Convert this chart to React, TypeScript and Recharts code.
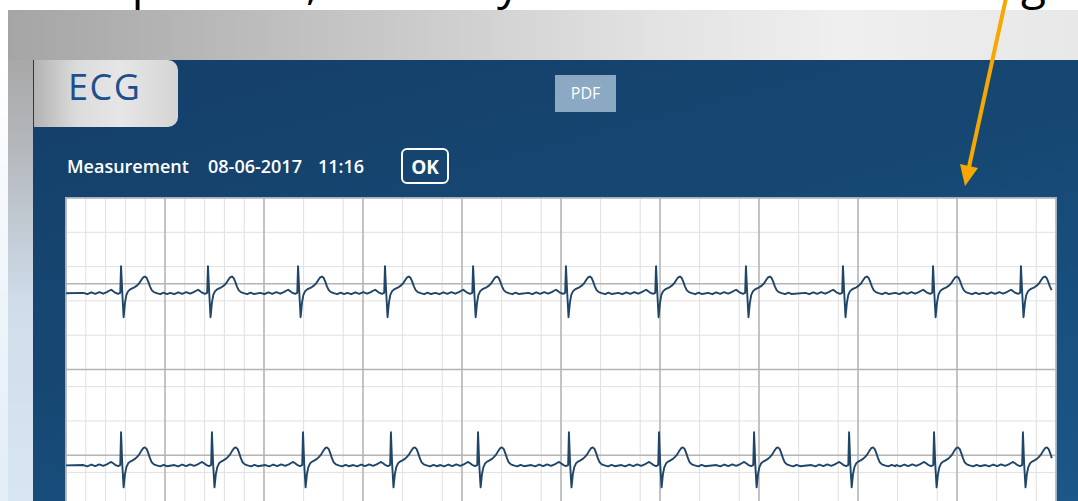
import React from 'react';
import { LineChart, Line, XAxis, YAxis, CartesianGrid } from 'recharts';

// ---- data (x in small grid boxes, y in small grid boxes) ----
const minorXTicks = [1,2,3,4,6,7,8,9,11,12,13,14,16,17,18,19,21,22,23,24,26,27,28,29,31,32,33,34,36,37,38,39,41,42,43,44,46,47,48,49];
const majorXTicks = [0,5,10,15,20,25,30,35,40,45,50];
const minorYTicks = [1,2,3,4,6,7,8,9,11,12,13,14,16,17,18,19,20];
const majorYTicks = [5, 10, 15];

// R-peak positions of each strip
const strip1Peaks = [2.78, 7.17, 11.72, 16.11, 20.56, 25.25, 29.8, 34.34, 39.24, 43.79, 48.23];
const strip2Peaks = [2.78, 7.37, 11.97, 16.41, 20.81, 25.4, 29.95, 34.75, 39.55, 43.84, 48.33];
const strip1Baseline = 14.45;
const strip2Baseline = 4.41;

// one heartbeat: offsets from the R peak and heights above the baseline (incl. small baseline wiggles)
const beatOffsets = [-1.9, -1.7, -1.5, -1.3, -1.1, -0.9, -0.72, -0.6, -0.5, -0.4, -0.3, -0.15, -0.04, 0, 0.06, 0.13, 0.2, 0.27, 0.36, 0.46, 0.56, 0.68, 0.8, 0.92, 1.03, 1.12, 1.21, 1.3, 1.38, 1.46, 1.55, 1.66, 1.8, 1.98, 2.15, 2.32];
const beatShape1 = [0.02, -0.06, 0.05, -0.04, 0.06, -0.03, 0.06, 0.14, 0.2, 0.12, 0.03, -0.04, 0.02, 1.58, 0.1, -1.4, -0.55, -0.1, 0.12, 0.22, 0.28, 0.34, 0.44, 0.58, 0.78, 0.92, 0.97, 0.88, 0.66, 0.4, 0.18, 0.06, 0.0, -0.06, 0.03, -0.05];
const beatShape2 = [0.02, -0.06, 0.05, -0.04, 0.06, -0.03, 0.06, 0.14, 0.2, 0.12, 0.03, -0.04, 0.02, 1.93, 0.1, -1.28, -0.5, -0.1, 0.12, 0.22, 0.28, 0.36, 0.48, 0.64, 0.86, 1.0, 1.05, 0.95, 0.7, 0.42, 0.18, 0.06, 0.0, -0.06, 0.03, -0.05];

const buildTrace = (peaks: number[], base: number, shape: number[]) => {
  const pts: { x: number; y: number }[] = [{ x: 0, y: base }];
  peaks.forEach((p) => {
    beatOffsets.forEach((o, i) => {
      const x = p + o;
      if (x > 0 && x <= 49.85) pts.push({ x, y: base + shape[i] });
    });
  });
  pts.sort((a, b) => a.x - b.x);
  return pts;
};

const trace1 = buildTrace(strip1Peaks, strip1Baseline, beatShape1);
const trace2 = buildTrace(strip2Peaks, strip2Baseline, beatShape2);

const FONT = '"Open Sans", "Noto Sans", sans-serif';

export default function App() {
  return (
    <div style={{ position: 'fixed', left: 0, top: 0, width: 1078, height: 501, overflow: 'hidden', background: '#ffffff', fontFamily: FONT }}>
      {/* grey band */}
      <div style={{ position: 'absolute', left: 8, top: 10, width: 1070, height: 50, background: 'linear-gradient(90deg, #a5a5a5 0%, #c8c8c8 35%, #e2e2e2 60%, #efefef 78%, #e8e8e8 100%)' }} />
      {/* left light strip */}
      <div style={{ position: 'absolute', left: 0, top: 60, width: 8, height: 441, background: 'linear-gradient(180deg, #ffffff 0%, #f2f7fb 40%, #e2edf7 100%)' }} />
      <div style={{ position: 'absolute', left: 8, top: 60, width: 25, height: 441, background: 'linear-gradient(180deg, #a8a8a8 0%, #b4b8bc 20%, #cfdcea 55%, #d8e6f3 100%)' }} />
      {/* blue panel */}
      <div style={{ position: 'absolute', left: 33, top: 60, width: 1045, height: 441, background: 'linear-gradient(165deg, #143f69 0%, #164773 45%, #1b5788 100%)' }} />
      {/* ECG tab */}
      <div style={{ position: 'absolute', left: 34, top: 60, width: 144, height: 67, borderRadius: '0 10px 10px 0', background: 'linear-gradient(90deg, #b3b3b3 0%, #dcdcdc 30%, #e6e6e6 60%, #d5d5d5 100%)' }} />
      {/* PDF button */}
      <div style={{ position: 'absolute', left: 555, top: 75, width: 61, height: 37, background: '#8ba9c3' }} />
      {/* chart paper */}
      <div style={{ position: 'absolute', left: 65, top: 197, width: 992, height: 345, background: '#9fb0c0' }} />
      <div style={{ position: 'absolute', left: 66, top: 198, width: 990, height: 343, background: '#ffffff' }}>
        <LineChart width={990} height={343} margin={{ top: 0, right: 0, bottom: 0, left: 0 }}>
          <XAxis xAxisId="m" type="number" dataKey="x" domain={[0, 50]} ticks={minorXTicks} hide allowDataOverflow />
          <YAxis yAxisId="m" type="number" domain={[0, 20]} ticks={minorYTicks} hide allowDataOverflow />
          <XAxis xAxisId="M" type="number" dataKey="x" domain={[0, 50]} ticks={majorXTicks} hide allowDataOverflow />
          <YAxis yAxisId="M" type="number" domain={[0, 20]} ticks={majorYTicks} hide allowDataOverflow />
          <CartesianGrid xAxisId="m" yAxisId="m" stroke="#e0e0e0" strokeWidth={1} />
          <CartesianGrid xAxisId="M" yAxisId="M" stroke="#b4b4b4" strokeWidth={1.6} />
          <Line xAxisId="m" yAxisId="m" data={trace1} dataKey="y" type="linear" dot={false} stroke="#1f4569" strokeWidth={1.9} strokeLinejoin="round" isAnimationActive={false} />
          <Line xAxisId="m" yAxisId="m" data={trace2} dataKey="y" type="linear" dot={false} stroke="#1f4569" strokeWidth={1.9} strokeLinejoin="round" isAnimationActive={false} />
        </LineChart>
      </div>
      {/* overlay texts and annotation */}
      <svg width={1078} height={501} style={{ position: 'absolute', left: 0, top: 0, pointerEvents: 'none' }}>
        <g fontFamily={FONT} fontSize={46} fill="#000000">
          <text x={160} y={-1} textAnchor="end">up</text>
          <text x={318} y={-1} textAnchor="end">on,</text>
          <text x={520} y={-1} textAnchor="end">by</text>
          <text x={1046} y={-1} textAnchor="end">ing</text>
        </g>
        <text x={68} y={100} fontFamily={FONT} fontSize={36} letterSpacing={1.5} fill="#1d4f8f">ECG</text>
        <text x={585.5} y={99} fontFamily={FONT} fontSize={16} fill="#ffffff" textAnchor="middle">PDF</text>
        <g fontFamily={FONT} fontSize={18} fontWeight={600} fill="#ffffff">
          <text x={67} y={173}>Measurement</text>
          <text x={208} y={173}>08-06-2017</text>
          <text x={318} y={173}>11:16</text>
        </g>
        <rect x={402} y={149} width={46} height={34} rx={5} fill="none" stroke="#ffffff" strokeWidth={2} />
        <text x={425} y={174} fontFamily={FONT} fontSize={19} fontWeight={700} fill="#ffffff" textAnchor="middle">OK</text>
        <line x1={1006} y1={-2} x2={969} y2={167} stroke="#f6a800" strokeWidth={4} />
        <polygon points="965,186 960,164 978,168" fill="#f6a800" />
      </svg>
    </div>
  );
}
